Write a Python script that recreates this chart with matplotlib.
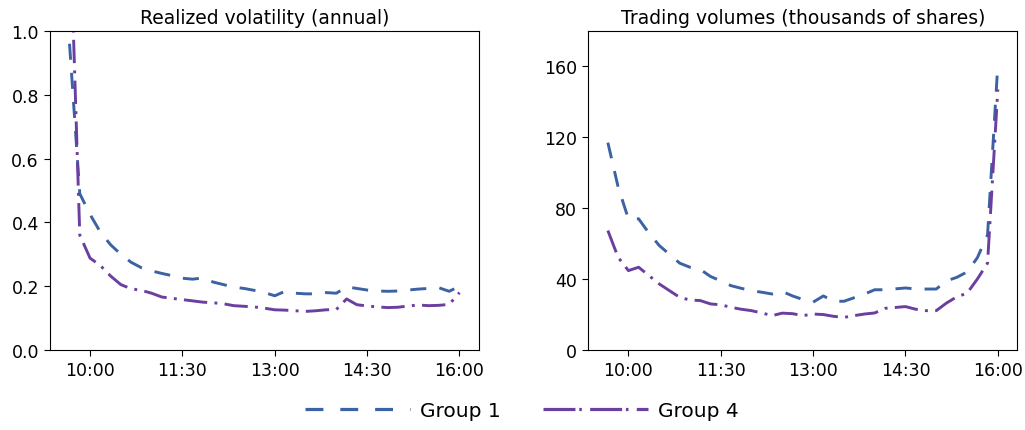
import numpy as np
import matplotlib
matplotlib.use("Agg")
import matplotlib.pyplot as plt
from matplotlib.lines import Line2D
from matplotlib.ticker import FuncFormatter

# 10-minute bins from 09:40 to 16:00, minutes since midnight
minutes = np.arange(580, 961, 10)

vol_group1 = [0.96, 0.49, 0.425, 0.37, 0.33, 0.30, 0.275, 0.258, 0.248, 0.24,
              0.233, 0.225, 0.222, 0.226, 0.213, 0.205, 0.197, 0.193, 0.187, 0.18,
              0.17, 0.184, 0.178, 0.176, 0.176, 0.18, 0.178, 0.198, 0.193, 0.188,
              0.185, 0.184, 0.185, 0.188, 0.191, 0.193, 0.195, 0.184, 0.2]
vol_group4 = [1.38, 0.36, 0.288, 0.265, 0.232, 0.205, 0.192, 0.187, 0.178, 0.166,
              0.162, 0.158, 0.154, 0.15, 0.148, 0.145, 0.139, 0.137, 0.135, 0.131,
              0.126, 0.125, 0.123, 0.121, 0.123, 0.126, 0.127, 0.16, 0.142, 0.138,
              0.135, 0.133, 0.134, 0.138, 0.141, 0.139, 0.14, 0.143, 0.18]

volume_group1 = [117, 92, 74, 74, 66, 59, 54, 49, 46.7, 45.5,
                 41.5, 39, 36.3, 34.8, 33.5, 32.6, 31.6, 33, 30.5, 28.5,
                 27, 30.5, 27.5, 27.5, 29.5, 31.5, 34, 34, 34.5, 35,
                 34.4, 34.4, 34.4, 39, 41, 44, 52, 65, 161]
volume_group4 = [67.4, 52.3, 44.8, 46.7, 42, 37.3, 33.5, 29.7, 28.2, 27.9,
                 26, 25.5, 24.1, 23, 22.2, 20.9, 19.4, 20.8, 20.5, 19.4,
                 20.3, 20, 19, 18.4, 19.4, 20.3, 20.9, 23.5, 24, 24.5,
                 23, 22.2, 22.2, 26.5, 30, 32, 40, 49, 147]

time_ticks = [600, 690, 780, 870, 960]

blue = "#3b62a2"
purple = "#6b3fa0"
dash1 = (0, (5.5, 4.5))
dash4 = (0, (8, 2.5, 1, 2.5))

fig, (ax1, ax2) = plt.subplots(1, 2, figsize=(10.25, 4.31), dpi=100)
fig.subplots_adjust(left=0.0488, right=0.9925, bottom=0.1856, top=0.9258, wspace=0.255)

ax1.plot(minutes, vol_group1, color=blue, linestyle=dash1, linewidth=2.1)
ax1.plot(minutes, vol_group4, color=purple, linestyle=dash4, linewidth=2.1)
ax1.set_ylim(0, 1.0)
ax1.set_yticks([0.0, 0.2, 0.4, 0.6, 0.8, 1.0])
ax1.set_title("Realized volatility (annual)", fontsize=13.5)

ax2.plot(minutes, volume_group1, color=blue, linestyle=dash1, linewidth=2.1)
ax2.plot(minutes, volume_group4, color=purple, linestyle=dash4, linewidth=2.1)
ax2.set_ylim(0, 180)
ax2.set_yticks([0, 40, 80, 120, 160])
ax2.set_title("Trading volumes (thousands of shares)", fontsize=13.5)

fmt = FuncFormatter(lambda m, pos: "%d:%02d" % (m // 60, m % 60))
for ax in (ax1, ax2):
    ax.set_xticks(time_ticks)
    ax.xaxis.set_major_formatter(fmt)
    ax.tick_params(labelsize=12.5, length=4.5)

handles = [Line2D([], [], color=blue, linestyle=(0, (5.6, 5.3)), linewidth=2.3),
           Line2D([], [], color=purple, linestyle=(0, (10, 1.2, 0.8, 2.6)), linewidth=2.3)]
fig.legend(handles, ["Group 1", "Group 4"], loc="center", bbox_to_anchor=(0.509, 0.045),
           ncol=2, frameon=False, fontsize=14.5, handlelength=5.2,
           handletextpad=0.5, columnspacing=2.1)

plt.savefig("out.png", dpi=100)
